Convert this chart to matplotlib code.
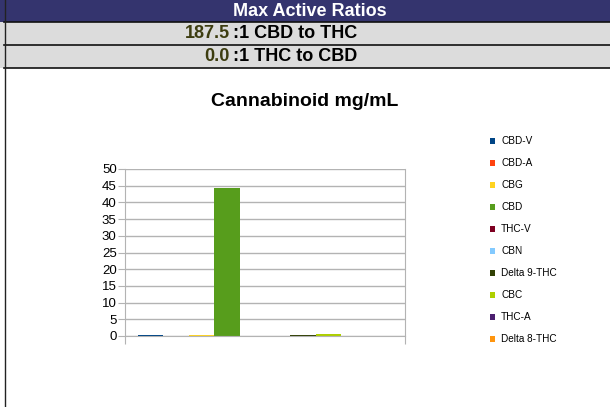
#-----------------------------------------------------------------------
#---- plot.py : Cannabinoid mg/mL + tableau des ratios
#-----------------------------------------------------------------------

import matplotlib
matplotlib.use("Agg")
import matplotlib.pyplot as plt
from matplotlib.patches import Rectangle

plt.rcParams['font.family'] = ['Liberation Sans', 'DejaVu Sans']

#---- Donnees
cannabinoids = ["CBD-V", "CBD-A", "CBG", "CBD", "THC-V", "CBN",
                "Delta 9-THC", "CBC", "THC-A", "Delta 8-THC"]
mg_per_ml = [0.25, 0.0, 0.2, 44.2, 0.0, 0.0, 0.24, 0.6, 0.0, 0.0]
colors = ["#004586", "#ff420e", "#ffd320", "#579d1c", "#7e0021",
          "#83caff", "#314004", "#aecf00", "#4b1f6f", "#ff950e"]

ratio_values = ["187.5", "0.0"]
ratio_labels = [":1 CBD to THC", ":1 THC to CBD"]
header = "Max Active Ratios"
title = "Cannabinoid mg/mL"
y_ticks = [0, 5, 10, 15, 20, 25, 30, 35, 40, 45, 50]

W, H = 610, 407
fig = plt.figure(figsize=(W / 100, H / 100), dpi=100)

#---- Tableau d'entete (coordonnees en pixels -> fraction)
def fy(py):
    return 1 - py / H

fig.patches.append(Rectangle((0, fy(22)), 1, 22 / H, transform=fig.transFigure,
                             facecolor="#34346e", edgecolor="none"))
fig.patches.append(Rectangle((0, fy(68)), 1, 46 / H, transform=fig.transFigure,
                             facecolor="#dcdcdc", edgecolor="none"))
for py in [22, 45, 68]:
    fig.add_artist(plt.Line2D([4 / W, 1], [fy(py), fy(py)], color="#111111", lw=1.2))
fig.add_artist(plt.Line2D([4.5 / W, 4.5 / W], [0, 1], color="#222222", lw=1.0))

fig.text(310 / W, fy(11), header, color="white", fontsize=13, fontweight="bold",
         ha="center", va="center")
for i, (v, lab) in enumerate(zip(ratio_values, ratio_labels)):
    yy = fy(33.5 + 23 * i)
    fig.text(230 / W, yy, v, color="#3d3d10", fontsize=13, fontweight="bold",
             ha="right", va="center")
    fig.text(233 / W, yy, lab, color="black", fontsize=13, fontweight="bold",
             ha="left", va="center")

fig.text(305 / W, fy(102), title, fontsize=14, fontweight="bold",
         ha="center", va="center")

#---- Graphique
ax = fig.add_axes([125 / W, 71 / H, 280 / W, 167 / H])
bars = []
for i, (name, val, c) in enumerate(zip(cannabinoids, mg_per_ml, colors)):
    b = ax.bar(i, val, width=1.0, color=c, label=name)
    bars.append(b)

ax.set_xlim(-1.01, len(cannabinoids) - 1 + 1.01)
ax.set_ylim(0, 50)
ax.set_yticks(y_ticks)
ax.set_xticks([-1.01, len(cannabinoids) - 1 + 1.01])
ax.set_xticklabels([])
ax.yaxis.grid(True, color="#b3b3b3", lw=1.0)
ax.set_axisbelow(True)
ax.spines["top"].set_visible(False)
for s in ["left", "right", "bottom"]:
    ax.spines[s].set_color("#b3b3b3")
ax.tick_params(axis="y", length=5, color="#b3b3b3", labelsize=9.5, pad=1)
ax.tick_params(axis="x", length=6, color="#b3b3b3")

#---- Legende
fig.legend(handles=bars, loc="upper left", bbox_to_anchor=(490 / W, fy(136.5)),
           frameon=False, fontsize=7.2, handlelength=0.5, handleheight=0.5,
           handletextpad=0.6, labelspacing=1.2, borderaxespad=0, borderpad=0)

fig.savefig("out.png", dpi=100)
